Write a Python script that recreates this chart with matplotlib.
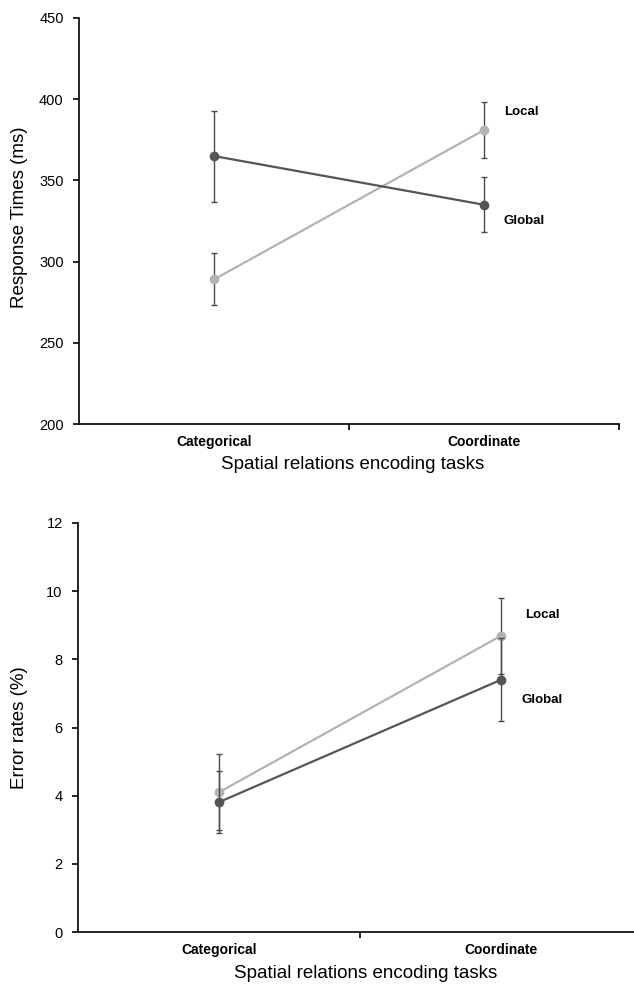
import matplotlib
matplotlib.use('Agg')
import matplotlib.pyplot as plt
import numpy as np

plt.rcParams['font.family'] = ['Liberation Sans', 'DejaVu Sans']

categories = ['Categorical', 'Coordinate']

# response times (ms)
rt_global = [365, 335]
rt_global_err = [28, 17]
rt_local = [289, 381]
rt_local_err = [16, 17.5]
rt_ticks = [200, 250, 300, 350, 400, 450]

# error rates (%)
er_global = [3.81, 7.40]
er_global_err = [0.9, 1.22]
er_local = [4.10, 8.69]
er_local_err = [1.12, 1.12]
er_ticks = [0, 2, 4, 6, 8, 10, 12]

dark = '#555555'
light = '#b3b3b3'
bar_col = '#4a4a4a'

fig = plt.figure(figsize=(6.34, 9.85), dpi=100)
ax1 = fig.add_axes([79/634, 1-424/985, 540/634, 406/985])
ax2 = fig.add_axes([78/634, 1-932/985, 564/634, 409/985])

x = np.arange(len(categories)) + 0.5


def draw(ax, glob, glob_err, loc, loc_err, ticks, ylabel, lab_pos):
    ax.errorbar(x, loc, yerr=loc_err, color=light, ecolor=bar_col, elinewidth=1,
                capsize=2, capthick=1, lw=1.6, marker='o', ms=6, zorder=3)
    ax.errorbar(x, glob, yerr=glob_err, color=dark, ecolor=bar_col, elinewidth=1,
                capsize=2, capthick=1, lw=1.6, marker='o', ms=6, zorder=4)
    ax.set_xlim(0, 2)
    ax.set_ylim(ticks[0], ticks[-1])
    ax.set_yticks(ticks)
    ax.set_xticks([1, 2])
    ax.set_xticklabels([])
    ax.set_xticks(x, minor=True)
    ax.set_xticklabels(categories, minor=True, fontsize=10, fontweight='bold')
    ax.tick_params(axis='x', which='minor', length=0, pad=8)
    ax.tick_params(axis='x', which='major', length=4, width=1.2, direction='out')
    ax.tick_params(axis='y', length=4, width=1.2, direction='out', labelsize=10.5, pad=7)
    for s in ['top', 'right']:
        ax.spines[s].set_visible(False)
    for s in ['left', 'bottom']:
        ax.spines[s].set_linewidth(1.3)
        ax.spines[s].set_color('#111111')
    ax.set_ylabel(ylabel, fontsize=13.5)
    ax.set_xlabel('Spatial relations encoding tasks', fontsize=13.5)
    ax.text(lab_pos[0], lab_pos[1], 'Local', fontsize=9.5, fontweight='bold', va='center', ha='left')
    ax.text(lab_pos[2], lab_pos[3], 'Global', fontsize=9.5, fontweight='bold', va='center', ha='left')


draw(ax1, rt_global, rt_global_err, rt_local, rt_local_err, rt_ticks,
     'Response Times (ms)', (1.574, 392, 1.574, 325))
ax1.yaxis.set_label_coords(-0.094, 0.51)
ax1.xaxis.set_label_coords(0.507, -0.08)

draw(ax2, er_global, er_global_err, er_local, er_local_err, er_ticks,
     'Error rates (%)', (1.587, 9.3, 1.573, 6.82))
ax2.yaxis.set_label_coords(-0.089, 0.5)
ax2.xaxis.set_label_coords(0.51, -0.08)

fig.savefig('out.png', dpi=100)
